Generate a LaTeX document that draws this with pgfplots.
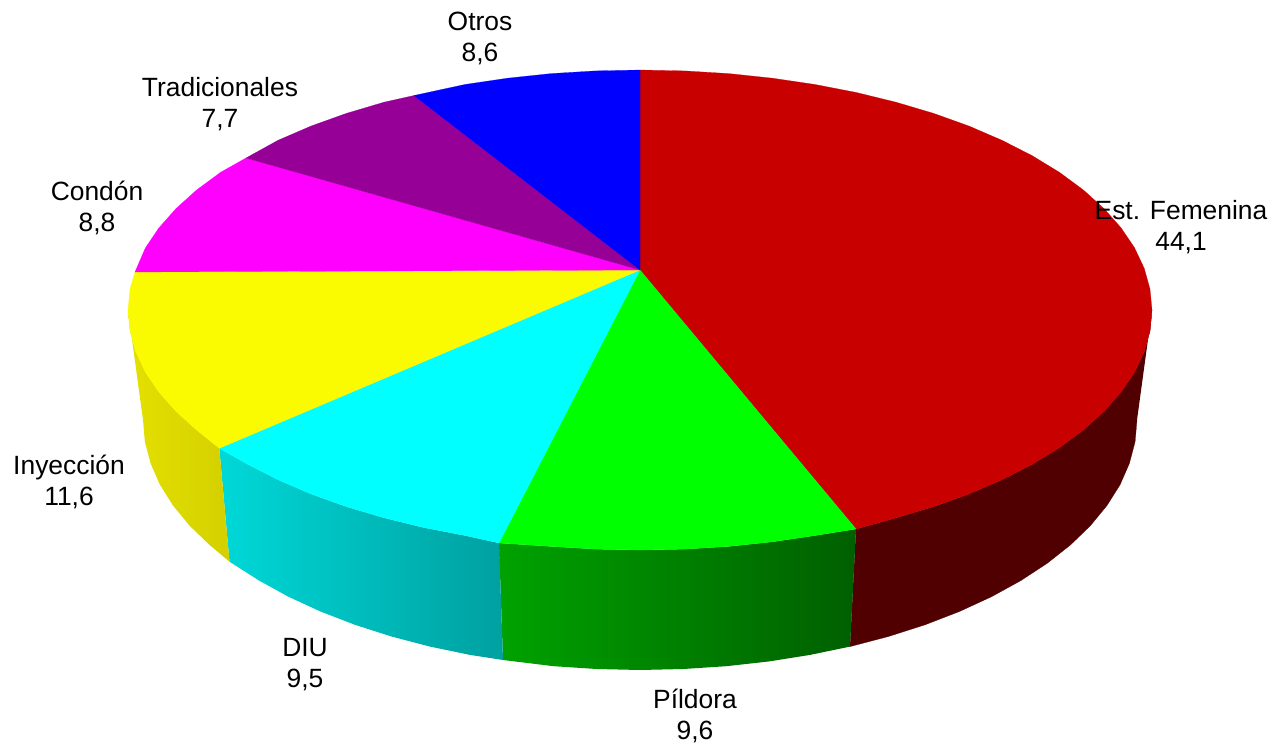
\documentclass[border=0pt]{standalone}
\usepackage{fontspec}
\setmainfont{Liberation Sans}
\usepackage{pgfplots}
\pgfplotsset{compat=1.18}
\definecolor{rojo}{RGB}{200,0,0}
\definecolor{rojoL}{RGB}{80,0,0}
\definecolor{verde}{RGB}{0,255,0}
\definecolor{verdeA}{RGB}{0,162,0}
\definecolor{verdeB}{RGB}{0,95,0}
\definecolor{cian}{RGB}{0,255,255}
\definecolor{cianA}{RGB}{0,216,216}
\definecolor{cianB}{RGB}{0,160,160}
\definecolor{amaA}{RGB}{228,224,0}
\definecolor{amaB}{RGB}{212,208,0}
\definecolor{ama}{RGB}{250,250,0}
\definecolor{fucsia}{RGB}{255,0,255}
\definecolor{morado}{RGB}{150,0,150}
\definecolor{azul}{RGB}{0,0,255}
\tikzset{etiq/.style={font=\fontsize{26.4}{31}\selectfont, align=center, inner sep=0pt, text=black}}
\begin{document}
\begin{tikzpicture}
\begin{axis}[
    scale only axis,
    width=1274pt,
    height=744pt,
    xmin=0, xmax=1274,
    ymin=0, ymax=744,
    y dir=reverse,
    hide axis,
    clip=false,
    ]
\path (axis cs:0,0) rectangle (axis cs:1274,744);
% sides, in image pixels
\addplot[draw=rojoL, very thin, fill=rojoL, no markers] coordinates {
 (1152,310) (1150,330.9) (1144.2,351.7) (1134.6,372.1) (1121.1,392.1) (1104,411.4) (1083.4,430) (1059.4,447.7) (1032.2,464.3) (1002,479.7) (969.1,493.9) (933.7,506.6) (896,517.8) (856,529)
 (850,646.6) (888.5,636.5) (925.1,624.8) (959.5,611.5) (991.4,596.8) (1020.7,580.7) (1047.1,563.4) (1070.4,545) (1090.4,525.7) (1107,505.5) (1120.1,484.7) (1129.4,463.4) (1135.1,441.8) (1137,420) };
\addplot[draw=none, shade, left color=verdeA, right color=verdeB, no markers] coordinates {
 (856,529) (815.1,535.5) (772.5,541.8) (728.9,546.4) (684.6,549.1) (640,550) (595.4,549.1) (551.1,546.4) (499,543)
 (503,660) (553.7,666.2) (596.7,669) (640,670) (683.3,669) (726.3,666.2) (768.6,661.5) (810,654.9) (850,646.6) };
\addplot[draw=none, shade, left color=cianA, right color=cianB, no markers] coordinates {
 (499,543) (464.9,535.5) (423.6,527.5) (384,517.8) (346.3,506.6) (310.9,493.9) (278,479.7) (247.8,464.3) (219.3,448.3)
 (229.5,561.7) (259.3,580.7) (288.6,596.8) (320.5,611.5) (354.9,624.8) (391.5,636.5) (430,646.6) (470,654.9) (503,660) };
\addplot[draw=none, shade, left color=amaA, right color=amaB, no markers] coordinates {
 (219.3,448.3) (196.6,430) (176,411.4) (158.9,392.1) (145.4,372.1) (135.8,351.7) (130,330.9) (128,310)
 (143,420) (144.9,441.8) (150.6,463.4) (159.9,484.7) (173,505.5) (189.6,525.7) (209.6,545) (229.5,561.7) };
% top face
\addplot[draw=rojo, very thin, fill=rojo, no markers] coordinates {
 (640,270) (640,70) (684.6,70.9) (728.9,73.6) (772.5,78.2) (815.1,84.5) (856.4,92.5) (896,102.2) (933.7,113.4) (969.1,126.1) (1002,140.3) (1032.2,155.7) (1059.4,172.3) (1083.4,190) (1104,208.6) (1121.1,227.9) (1134.6,247.9) (1144.2,268.3) (1150,289.1) (1152,310)
 (1150,330.9) (1144.2,351.7) (1134.6,372.1) (1121.1,392.1) (1104,411.4) (1083.4,430) (1059.4,447.7) (1032.2,464.3) (1002,479.7) (969.1,493.9) (933.7,506.6) (896,517.8) (856,529) (640,270) };
\addplot[draw=verde, very thin, fill=verde, no markers] coordinates {
 (640,270) (856,529) (815.1,535.5) (772.5,541.8) (728.9,546.4) (684.6,549.1) (640,550) (595.4,549.1) (551.1,546.4) (499,543) (640,270) };
\addplot[draw=cian, very thin, fill=cian, no markers] coordinates {
 (640,270) (499,543) (464.9,535.5) (423.6,527.5) (384,517.8) (346.3,506.6) (310.9,493.9) (278,479.7) (247.8,464.3) (219.3,448.3) (640,270) };
\addplot[draw=ama, very thin, fill=ama, no markers] coordinates {
 (640,270) (219.3,448.3) (196.6,430) (176,411.4) (158.9,392.1) (145.4,372.1) (135.8,351.7) (130,330.9) (128,310) (130,289.1) (135,272) (640,270) };
\addplot[draw=fucsia, very thin, fill=fucsia, no markers] coordinates {
 (640,270) (135,272) (145.4,247.9) (158.9,227.9) (176,208.6) (196.6,190) (220.6,172.3) (246,158) (640,270) };
\addplot[draw=morado, very thin, fill=morado, no markers] coordinates {
 (640,270) (246,158) (278,140.3) (310.9,126.1) (346.3,113.4) (384,102.2) (414,95.5) (640,270) };
\addplot[draw=azul, very thin, fill=azul, no markers] coordinates {
 (640,270) (414,95.5) (464.9,84.5) (507.5,78.2) (551.1,73.6) (595.4,70.9) (640,70) (640,270) };
% labels
\node[etiq] at (axis cs:480,38) {Otros\\8,6};
\node[etiq] at (axis cs:220,104) {Tradicionales\\7,7};
\node[etiq] at (axis cs:97,208) {Condón\\8,8};
\node[etiq] at (axis cs:1181,227) {Est. Femenina\\44,1};
\node[etiq] at (axis cs:69,482) {Inyección\\11,6};
\node[etiq] at (axis cs:305,665) {DIU\\9,5};
\node[etiq] at (axis cs:695,716) {Píldora\\9,6};
\end{axis}
\end{tikzpicture}
\end{document}
